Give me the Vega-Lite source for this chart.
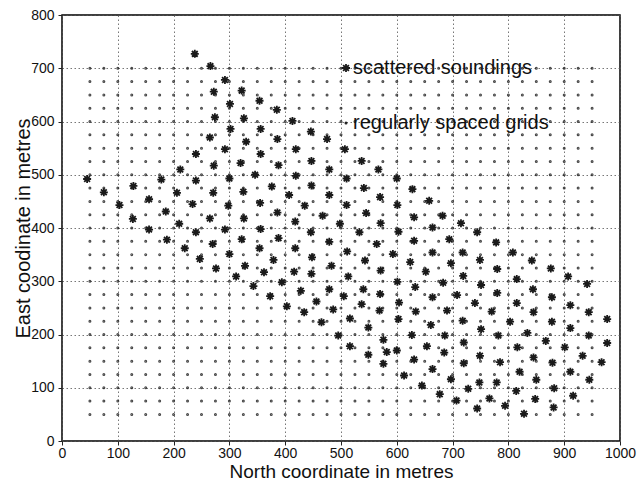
{
  "$schema": "https://vega.github.io/schema/vega-lite/v6.json",
  "width": 558,
  "height": 426,
  "autosize": {"type": "none"},
  "padding": {"left": 62, "top": 15, "right": 18, "bottom": 40},
  "background": "white",
  "config": {
    "font": "Liberation Sans",
    "view": {"stroke": "black", "strokeWidth": 1.5},
    "axis": {
      "domain": false,
      "labelFont": "Liberation Sans",
      "labelFontSize": 14,
      "labelColor": "#111",
      "titleFont": "Liberation Sans",
      "titleFontSize": 20,
      "titleFontWeight": "normal",
      "titleColor": "#111",
      "tickColor": "#222",
      "tickSize": 4,
      "tickWidth": 1,
      "grid": true,
      "gridColor": "#555",
      "gridDash": [1.5, 2.5],
      "gridWidth": 1,
      "gridOpacity": 0.8
    }
  },
  "datasets": {
    "grid": [
{"x":50,"y":50},{"x":50,"y":75},{"x":50,"y":100},{"x":50,"y":125},{"x":50,"y":150},{"x":50,"y":175},{"x":50,"y":200},{"x":50,"y":225},{"x":50,"y":250},{"x":50,"y":275},{"x":50,"y":300},{"x":50,"y":325},{"x":50,"y":350},{"x":50,"y":375},{"x":50,"y":400},{"x":50,"y":425},{"x":50,"y":450},{"x":50,"y":475},{"x":50,"y":500},{"x":50,"y":525},{"x":50,"y":550},{"x":50,"y":575},{"x":50,"y":600},{"x":50,"y":625},{"x":50,"y":650},{"x":50,"y":675},{"x":50,"y":700},
{"x":75,"y":50},{"x":75,"y":75},{"x":75,"y":100},{"x":75,"y":125},{"x":75,"y":150},{"x":75,"y":175},{"x":75,"y":200},{"x":75,"y":225},{"x":75,"y":250},{"x":75,"y":275},{"x":75,"y":300},{"x":75,"y":325},{"x":75,"y":350},{"x":75,"y":375},{"x":75,"y":400},{"x":75,"y":425},{"x":75,"y":450},{"x":75,"y":475},{"x":75,"y":500},{"x":75,"y":525},{"x":75,"y":550},{"x":75,"y":575},{"x":75,"y":600},{"x":75,"y":625},{"x":75,"y":650},{"x":75,"y":675},{"x":75,"y":700},
{"x":100,"y":50},{"x":100,"y":75},{"x":100,"y":100},{"x":100,"y":125},{"x":100,"y":150},{"x":100,"y":175},{"x":100,"y":200},{"x":100,"y":225},{"x":100,"y":250},{"x":100,"y":275},{"x":100,"y":300},{"x":100,"y":325},{"x":100,"y":350},{"x":100,"y":375},{"x":100,"y":400},{"x":100,"y":425},{"x":100,"y":450},{"x":100,"y":475},{"x":100,"y":500},{"x":100,"y":525},{"x":100,"y":550},{"x":100,"y":575},{"x":100,"y":600},{"x":100,"y":625},{"x":100,"y":650},{"x":100,"y":675},{"x":100,"y":700},
{"x":125,"y":50},{"x":125,"y":75},{"x":125,"y":100},{"x":125,"y":125},{"x":125,"y":150},{"x":125,"y":175},{"x":125,"y":200},{"x":125,"y":225},{"x":125,"y":250},{"x":125,"y":275},{"x":125,"y":300},{"x":125,"y":325},{"x":125,"y":350},{"x":125,"y":375},{"x":125,"y":400},{"x":125,"y":425},{"x":125,"y":450},{"x":125,"y":475},{"x":125,"y":500},{"x":125,"y":525},{"x":125,"y":550},{"x":125,"y":575},{"x":125,"y":600},{"x":125,"y":625},{"x":125,"y":650},{"x":125,"y":675},{"x":125,"y":700},
{"x":150,"y":50},{"x":150,"y":75},{"x":150,"y":100},{"x":150,"y":125},{"x":150,"y":150},{"x":150,"y":175},{"x":150,"y":200},{"x":150,"y":225},{"x":150,"y":250},{"x":150,"y":275},{"x":150,"y":300},{"x":150,"y":325},{"x":150,"y":350},{"x":150,"y":375},{"x":150,"y":400},{"x":150,"y":425},{"x":150,"y":450},{"x":150,"y":475},{"x":150,"y":500},{"x":150,"y":525},{"x":150,"y":550},{"x":150,"y":575},{"x":150,"y":600},{"x":150,"y":625},{"x":150,"y":650},{"x":150,"y":675},{"x":150,"y":700},
{"x":175,"y":50},{"x":175,"y":75},{"x":175,"y":100},{"x":175,"y":125},{"x":175,"y":150},{"x":175,"y":175},{"x":175,"y":200},{"x":175,"y":225},{"x":175,"y":250},{"x":175,"y":275},{"x":175,"y":300},{"x":175,"y":325},{"x":175,"y":350},{"x":175,"y":375},{"x":175,"y":400},{"x":175,"y":425},{"x":175,"y":450},{"x":175,"y":475},{"x":175,"y":500},{"x":175,"y":525},{"x":175,"y":550},{"x":175,"y":575},{"x":175,"y":600},{"x":175,"y":625},{"x":175,"y":650},{"x":175,"y":675},{"x":175,"y":700},
{"x":200,"y":50},{"x":200,"y":75},{"x":200,"y":100},{"x":200,"y":125},{"x":200,"y":150},{"x":200,"y":175},{"x":200,"y":200},{"x":200,"y":225},{"x":200,"y":250},{"x":200,"y":275},{"x":200,"y":300},{"x":200,"y":325},{"x":200,"y":350},{"x":200,"y":375},{"x":200,"y":400},{"x":200,"y":425},{"x":200,"y":450},{"x":200,"y":475},{"x":200,"y":500},{"x":200,"y":525},{"x":200,"y":550},{"x":200,"y":575},{"x":200,"y":600},{"x":200,"y":625},{"x":200,"y":650},{"x":200,"y":675},{"x":200,"y":700},
{"x":225,"y":50},{"x":225,"y":75},{"x":225,"y":100},{"x":225,"y":125},{"x":225,"y":150},{"x":225,"y":175},{"x":225,"y":200},{"x":225,"y":225},{"x":225,"y":250},{"x":225,"y":275},{"x":225,"y":300},{"x":225,"y":325},{"x":225,"y":350},{"x":225,"y":375},{"x":225,"y":400},{"x":225,"y":425},{"x":225,"y":450},{"x":225,"y":475},{"x":225,"y":500},{"x":225,"y":525},{"x":225,"y":550},{"x":225,"y":575},{"x":225,"y":600},{"x":225,"y":625},{"x":225,"y":650},{"x":225,"y":675},{"x":225,"y":700},
{"x":250,"y":50},{"x":250,"y":75},{"x":250,"y":100},{"x":250,"y":125},{"x":250,"y":150},{"x":250,"y":175},{"x":250,"y":200},{"x":250,"y":225},{"x":250,"y":250},{"x":250,"y":275},{"x":250,"y":300},{"x":250,"y":325},{"x":250,"y":350},{"x":250,"y":375},{"x":250,"y":400},{"x":250,"y":425},{"x":250,"y":450},{"x":250,"y":475},{"x":250,"y":500},{"x":250,"y":525},{"x":250,"y":550},{"x":250,"y":575},{"x":250,"y":600},{"x":250,"y":625},{"x":250,"y":650},{"x":250,"y":675},{"x":250,"y":700},
{"x":275,"y":50},{"x":275,"y":75},{"x":275,"y":100},{"x":275,"y":125},{"x":275,"y":150},{"x":275,"y":175},{"x":275,"y":200},{"x":275,"y":225},{"x":275,"y":250},{"x":275,"y":275},{"x":275,"y":300},{"x":275,"y":325},{"x":275,"y":350},{"x":275,"y":375},{"x":275,"y":400},{"x":275,"y":425},{"x":275,"y":450},{"x":275,"y":475},{"x":275,"y":500},{"x":275,"y":525},{"x":275,"y":550},{"x":275,"y":575},{"x":275,"y":600},{"x":275,"y":625},{"x":275,"y":650},{"x":275,"y":675},{"x":275,"y":700},
{"x":300,"y":50},{"x":300,"y":75},{"x":300,"y":100},{"x":300,"y":125},{"x":300,"y":150},{"x":300,"y":175},{"x":300,"y":200},{"x":300,"y":225},{"x":300,"y":250},{"x":300,"y":275},{"x":300,"y":300},{"x":300,"y":325},{"x":300,"y":350},{"x":300,"y":375},{"x":300,"y":400},{"x":300,"y":425},{"x":300,"y":450},{"x":300,"y":475},{"x":300,"y":500},{"x":300,"y":525},{"x":300,"y":550},{"x":300,"y":575},{"x":300,"y":600},{"x":300,"y":625},{"x":300,"y":650},{"x":300,"y":675},{"x":300,"y":700},
{"x":325,"y":50},{"x":325,"y":75},{"x":325,"y":100},{"x":325,"y":125},{"x":325,"y":150},{"x":325,"y":175},{"x":325,"y":200},{"x":325,"y":225},{"x":325,"y":250},{"x":325,"y":275},{"x":325,"y":300},{"x":325,"y":325},{"x":325,"y":350},{"x":325,"y":375},{"x":325,"y":400},{"x":325,"y":425},{"x":325,"y":450},{"x":325,"y":475},{"x":325,"y":500},{"x":325,"y":525},{"x":325,"y":550},{"x":325,"y":575},{"x":325,"y":600},{"x":325,"y":625},{"x":325,"y":650},{"x":325,"y":675},{"x":325,"y":700},
{"x":350,"y":50},{"x":350,"y":75},{"x":350,"y":100},{"x":350,"y":125},{"x":350,"y":150},{"x":350,"y":175},{"x":350,"y":200},{"x":350,"y":225},{"x":350,"y":250},{"x":350,"y":275},{"x":350,"y":300},{"x":350,"y":325},{"x":350,"y":350},{"x":350,"y":375},{"x":350,"y":400},{"x":350,"y":425},{"x":350,"y":450},{"x":350,"y":475},{"x":350,"y":500},{"x":350,"y":525},{"x":350,"y":550},{"x":350,"y":575},{"x":350,"y":600},{"x":350,"y":625},{"x":350,"y":650},{"x":350,"y":675},{"x":350,"y":700},
{"x":375,"y":50},{"x":375,"y":75},{"x":375,"y":100},{"x":375,"y":125},{"x":375,"y":150},{"x":375,"y":175},{"x":375,"y":200},{"x":375,"y":225},{"x":375,"y":250},{"x":375,"y":275},{"x":375,"y":300},{"x":375,"y":325},{"x":375,"y":350},{"x":375,"y":375},{"x":375,"y":400},{"x":375,"y":425},{"x":375,"y":450},{"x":375,"y":475},{"x":375,"y":500},{"x":375,"y":525},{"x":375,"y":550},{"x":375,"y":575},{"x":375,"y":600},{"x":375,"y":625},{"x":375,"y":650},{"x":375,"y":675},{"x":375,"y":700},
{"x":400,"y":50},{"x":400,"y":75},{"x":400,"y":100},{"x":400,"y":125},{"x":400,"y":150},{"x":400,"y":175},{"x":400,"y":200},{"x":400,"y":225},{"x":400,"y":250},{"x":400,"y":275},{"x":400,"y":300},{"x":400,"y":325},{"x":400,"y":350},{"x":400,"y":375},{"x":400,"y":400},{"x":400,"y":425},{"x":400,"y":450},{"x":400,"y":475},{"x":400,"y":500},{"x":400,"y":525},{"x":400,"y":550},{"x":400,"y":575},{"x":400,"y":600},{"x":400,"y":625},{"x":400,"y":650},{"x":400,"y":675},{"x":400,"y":700},
{"x":425,"y":50},{"x":425,"y":75},{"x":425,"y":100},{"x":425,"y":125},{"x":425,"y":150},{"x":425,"y":175},{"x":425,"y":200},{"x":425,"y":225},{"x":425,"y":250},{"x":425,"y":275},{"x":425,"y":300},{"x":425,"y":325},{"x":425,"y":350},{"x":425,"y":375},{"x":425,"y":400},{"x":425,"y":425},{"x":425,"y":450},{"x":425,"y":475},{"x":425,"y":500},{"x":425,"y":525},{"x":425,"y":550},{"x":425,"y":575},{"x":425,"y":600},{"x":425,"y":625},{"x":425,"y":650},{"x":425,"y":675},{"x":425,"y":700},
{"x":450,"y":50},{"x":450,"y":75},{"x":450,"y":100},{"x":450,"y":125},{"x":450,"y":150},{"x":450,"y":175},{"x":450,"y":200},{"x":450,"y":225},{"x":450,"y":250},{"x":450,"y":275},{"x":450,"y":300},{"x":450,"y":325},{"x":450,"y":350},{"x":450,"y":375},{"x":450,"y":400},{"x":450,"y":425},{"x":450,"y":450},{"x":450,"y":475},{"x":450,"y":500},{"x":450,"y":525},{"x":450,"y":550},{"x":450,"y":575},{"x":450,"y":600},{"x":450,"y":625},{"x":450,"y":650},{"x":450,"y":675},{"x":450,"y":700},
{"x":475,"y":50},{"x":475,"y":75},{"x":475,"y":100},{"x":475,"y":125},{"x":475,"y":150},{"x":475,"y":175},{"x":475,"y":200},{"x":475,"y":225},{"x":475,"y":250},{"x":475,"y":275},{"x":475,"y":300},{"x":475,"y":325},{"x":475,"y":350},{"x":475,"y":375},{"x":475,"y":400},{"x":475,"y":425},{"x":475,"y":450},{"x":475,"y":475},{"x":475,"y":500},{"x":475,"y":525},{"x":475,"y":550},{"x":475,"y":575},{"x":475,"y":600},{"x":475,"y":625},{"x":475,"y":650},{"x":475,"y":675},{"x":475,"y":700},
{"x":500,"y":50},{"x":500,"y":75},{"x":500,"y":100},{"x":500,"y":125},{"x":500,"y":150},{"x":500,"y":175},{"x":500,"y":200},{"x":500,"y":225},{"x":500,"y":250},{"x":500,"y":275},{"x":500,"y":300},{"x":500,"y":325},{"x":500,"y":350},{"x":500,"y":375},{"x":500,"y":400},{"x":500,"y":425},{"x":500,"y":450},{"x":500,"y":475},{"x":500,"y":500},{"x":500,"y":525},{"x":500,"y":550},{"x":500,"y":575},{"x":500,"y":600},{"x":500,"y":625},{"x":500,"y":650},{"x":500,"y":675},{"x":500,"y":700},
{"x":525,"y":50},{"x":525,"y":75},{"x":525,"y":100},{"x":525,"y":125},{"x":525,"y":150},{"x":525,"y":175},{"x":525,"y":200},{"x":525,"y":225},{"x":525,"y":250},{"x":525,"y":275},{"x":525,"y":300},{"x":525,"y":325},{"x":525,"y":350},{"x":525,"y":375},{"x":525,"y":400},{"x":525,"y":425},{"x":525,"y":450},{"x":525,"y":475},{"x":525,"y":500},{"x":525,"y":525},{"x":525,"y":550},{"x":525,"y":575},{"x":525,"y":600},{"x":525,"y":625},{"x":525,"y":650},{"x":525,"y":675},{"x":525,"y":700},
{"x":550,"y":50},{"x":550,"y":75},{"x":550,"y":100},{"x":550,"y":125},{"x":550,"y":150},{"x":550,"y":175},{"x":550,"y":200},{"x":550,"y":225},{"x":550,"y":250},{"x":550,"y":275},{"x":550,"y":300},{"x":550,"y":325},{"x":550,"y":350},{"x":550,"y":375},{"x":550,"y":400},{"x":550,"y":425},{"x":550,"y":450},{"x":550,"y":475},{"x":550,"y":500},{"x":550,"y":525},{"x":550,"y":550},{"x":550,"y":575},{"x":550,"y":600},{"x":550,"y":625},{"x":550,"y":650},{"x":550,"y":675},{"x":550,"y":700},
{"x":575,"y":50},{"x":575,"y":75},{"x":575,"y":100},{"x":575,"y":125},{"x":575,"y":150},{"x":575,"y":175},{"x":575,"y":200},{"x":575,"y":225},{"x":575,"y":250},{"x":575,"y":275},{"x":575,"y":300},{"x":575,"y":325},{"x":575,"y":350},{"x":575,"y":375},{"x":575,"y":400},{"x":575,"y":425},{"x":575,"y":450},{"x":575,"y":475},{"x":575,"y":500},{"x":575,"y":525},{"x":575,"y":550},{"x":575,"y":575},{"x":575,"y":600},{"x":575,"y":625},{"x":575,"y":650},{"x":575,"y":675},{"x":575,"y":700},
{"x":600,"y":50},{"x":600,"y":75},{"x":600,"y":100},{"x":600,"y":125},{"x":600,"y":150},{"x":600,"y":175},{"x":600,"y":200},{"x":600,"y":225},{"x":600,"y":250},{"x":600,"y":275},{"x":600,"y":300},{"x":600,"y":325},{"x":600,"y":350},{"x":600,"y":375},{"x":600,"y":400},{"x":600,"y":425},{"x":600,"y":450},{"x":600,"y":475},{"x":600,"y":500},{"x":600,"y":525},{"x":600,"y":550},{"x":600,"y":575},{"x":600,"y":600},{"x":600,"y":625},{"x":600,"y":650},{"x":600,"y":675},{"x":600,"y":700},
{"x":625,"y":50},{"x":625,"y":75},{"x":625,"y":100},{"x":625,"y":125},{"x":625,"y":150},{"x":625,"y":175},{"x":625,"y":200},{"x":625,"y":225},{"x":625,"y":250},{"x":625,"y":275},{"x":625,"y":300},{"x":625,"y":325},{"x":625,"y":350},{"x":625,"y":375},{"x":625,"y":400},{"x":625,"y":425},{"x":625,"y":450},{"x":625,"y":475},{"x":625,"y":500},{"x":625,"y":525},{"x":625,"y":550},{"x":625,"y":575},{"x":625,"y":600},{"x":625,"y":625},{"x":625,"y":650},{"x":625,"y":675},{"x":625,"y":700},
{"x":650,"y":50},{"x":650,"y":75},{"x":650,"y":100},{"x":650,"y":125},{"x":650,"y":150},{"x":650,"y":175},{"x":650,"y":200},{"x":650,"y":225},{"x":650,"y":250},{"x":650,"y":275},{"x":650,"y":300},{"x":650,"y":325},{"x":650,"y":350},{"x":650,"y":375},{"x":650,"y":400},{"x":650,"y":425},{"x":650,"y":450},{"x":650,"y":475},{"x":650,"y":500},{"x":650,"y":525},{"x":650,"y":550},{"x":650,"y":575},{"x":650,"y":600},{"x":650,"y":625},{"x":650,"y":650},{"x":650,"y":675},{"x":650,"y":700},
{"x":675,"y":50},{"x":675,"y":75},{"x":675,"y":100},{"x":675,"y":125},{"x":675,"y":150},{"x":675,"y":175},{"x":675,"y":200},{"x":675,"y":225},{"x":675,"y":250},{"x":675,"y":275},{"x":675,"y":300},{"x":675,"y":325},{"x":675,"y":350},{"x":675,"y":375},{"x":675,"y":400},{"x":675,"y":425},{"x":675,"y":450},{"x":675,"y":475},{"x":675,"y":500},{"x":675,"y":525},{"x":675,"y":550},{"x":675,"y":575},{"x":675,"y":600},{"x":675,"y":625},{"x":675,"y":650},{"x":675,"y":675},{"x":675,"y":700},
{"x":700,"y":50},{"x":700,"y":75},{"x":700,"y":100},{"x":700,"y":125},{"x":700,"y":150},{"x":700,"y":175},{"x":700,"y":200},{"x":700,"y":225},{"x":700,"y":250},{"x":700,"y":275},{"x":700,"y":300},{"x":700,"y":325},{"x":700,"y":350},{"x":700,"y":375},{"x":700,"y":400},{"x":700,"y":425},{"x":700,"y":450},{"x":700,"y":475},{"x":700,"y":500},{"x":700,"y":525},{"x":700,"y":550},{"x":700,"y":575},{"x":700,"y":600},{"x":700,"y":625},{"x":700,"y":650},{"x":700,"y":675},{"x":700,"y":700},
{"x":725,"y":50},{"x":725,"y":75},{"x":725,"y":100},{"x":725,"y":125},{"x":725,"y":150},{"x":725,"y":175},{"x":725,"y":200},{"x":725,"y":225},{"x":725,"y":250},{"x":725,"y":275},{"x":725,"y":300},{"x":725,"y":325},{"x":725,"y":350},{"x":725,"y":375},{"x":725,"y":400},{"x":725,"y":425},{"x":725,"y":450},{"x":725,"y":475},{"x":725,"y":500},{"x":725,"y":525},{"x":725,"y":550},{"x":725,"y":575},{"x":725,"y":600},{"x":725,"y":625},{"x":725,"y":650},{"x":725,"y":675},{"x":725,"y":700},
{"x":750,"y":50},{"x":750,"y":75},{"x":750,"y":100},{"x":750,"y":125},{"x":750,"y":150},{"x":750,"y":175},{"x":750,"y":200},{"x":750,"y":225},{"x":750,"y":250},{"x":750,"y":275},{"x":750,"y":300},{"x":750,"y":325},{"x":750,"y":350},{"x":750,"y":375},{"x":750,"y":400},{"x":750,"y":425},{"x":750,"y":450},{"x":750,"y":475},{"x":750,"y":500},{"x":750,"y":525},{"x":750,"y":550},{"x":750,"y":575},{"x":750,"y":600},{"x":750,"y":625},{"x":750,"y":650},{"x":750,"y":675},{"x":750,"y":700},
{"x":775,"y":50},{"x":775,"y":75},{"x":775,"y":100},{"x":775,"y":125},{"x":775,"y":150},{"x":775,"y":175},{"x":775,"y":200},{"x":775,"y":225},{"x":775,"y":250},{"x":775,"y":275},{"x":775,"y":300},{"x":775,"y":325},{"x":775,"y":350},{"x":775,"y":375},{"x":775,"y":400},{"x":775,"y":425},{"x":775,"y":450},{"x":775,"y":475},{"x":775,"y":500},{"x":775,"y":525},{"x":775,"y":550},{"x":775,"y":575},{"x":775,"y":600},{"x":775,"y":625},{"x":775,"y":650},{"x":775,"y":675},{"x":775,"y":700},
{"x":800,"y":50},{"x":800,"y":75},{"x":800,"y":100},{"x":800,"y":125},{"x":800,"y":150},{"x":800,"y":175},{"x":800,"y":200},{"x":800,"y":225},{"x":800,"y":250},{"x":800,"y":275},{"x":800,"y":300},{"x":800,"y":325},{"x":800,"y":350},{"x":800,"y":375},{"x":800,"y":400},{"x":800,"y":425},{"x":800,"y":450},{"x":800,"y":475},{"x":800,"y":500},{"x":800,"y":525},{"x":800,"y":550},{"x":800,"y":575},{"x":800,"y":600},{"x":800,"y":625},{"x":800,"y":650},{"x":800,"y":675},{"x":800,"y":700},
{"x":825,"y":50},{"x":825,"y":75},{"x":825,"y":100},{"x":825,"y":125},{"x":825,"y":150},{"x":825,"y":175},{"x":825,"y":200},{"x":825,"y":225},{"x":825,"y":250},{"x":825,"y":275},{"x":825,"y":300},{"x":825,"y":325},{"x":825,"y":350},{"x":825,"y":375},{"x":825,"y":400},{"x":825,"y":425},{"x":825,"y":450},{"x":825,"y":475},{"x":825,"y":500},{"x":825,"y":525},{"x":825,"y":550},{"x":825,"y":575},{"x":825,"y":600},{"x":825,"y":625},{"x":825,"y":650},{"x":825,"y":675},{"x":825,"y":700},
{"x":850,"y":50},{"x":850,"y":75},{"x":850,"y":100},{"x":850,"y":125},{"x":850,"y":150},{"x":850,"y":175},{"x":850,"y":200},{"x":850,"y":225},{"x":850,"y":250},{"x":850,"y":275},{"x":850,"y":300},{"x":850,"y":325},{"x":850,"y":350},{"x":850,"y":375},{"x":850,"y":400},{"x":850,"y":425},{"x":850,"y":450},{"x":850,"y":475},{"x":850,"y":500},{"x":850,"y":525},{"x":850,"y":550},{"x":850,"y":575},{"x":850,"y":600},{"x":850,"y":625},{"x":850,"y":650},{"x":850,"y":675},{"x":850,"y":700},
{"x":875,"y":50},{"x":875,"y":75},{"x":875,"y":100},{"x":875,"y":125},{"x":875,"y":150},{"x":875,"y":175},{"x":875,"y":200},{"x":875,"y":225},{"x":875,"y":250},{"x":875,"y":275},{"x":875,"y":300},{"x":875,"y":325},{"x":875,"y":350},{"x":875,"y":375},{"x":875,"y":400},{"x":875,"y":425},{"x":875,"y":450},{"x":875,"y":475},{"x":875,"y":500},{"x":875,"y":525},{"x":875,"y":550},{"x":875,"y":575},{"x":875,"y":600},{"x":875,"y":625},{"x":875,"y":650},{"x":875,"y":675},{"x":875,"y":700},
{"x":900,"y":50},{"x":900,"y":75},{"x":900,"y":100},{"x":900,"y":125},{"x":900,"y":150},{"x":900,"y":175},{"x":900,"y":200},{"x":900,"y":225},{"x":900,"y":250},{"x":900,"y":275},{"x":900,"y":300},{"x":900,"y":325},{"x":900,"y":350},{"x":900,"y":375},{"x":900,"y":400},{"x":900,"y":425},{"x":900,"y":450},{"x":900,"y":475},{"x":900,"y":500},{"x":900,"y":525},{"x":900,"y":550},{"x":900,"y":575},{"x":900,"y":600},{"x":900,"y":625},{"x":900,"y":650},{"x":900,"y":675},{"x":900,"y":700},
{"x":925,"y":50},{"x":925,"y":75},{"x":925,"y":100},{"x":925,"y":125},{"x":925,"y":150},{"x":925,"y":175},{"x":925,"y":200},{"x":925,"y":225},{"x":925,"y":250},{"x":925,"y":275},{"x":925,"y":300},{"x":925,"y":325},{"x":925,"y":350},{"x":925,"y":375},{"x":925,"y":400},{"x":925,"y":425},{"x":925,"y":450},{"x":925,"y":475},{"x":925,"y":500},{"x":925,"y":525},{"x":925,"y":550},{"x":925,"y":575},{"x":925,"y":600},{"x":925,"y":625},{"x":925,"y":650},{"x":925,"y":675},{"x":925,"y":700},
{"x":950,"y":50},{"x":950,"y":75},{"x":950,"y":100},{"x":950,"y":125},{"x":950,"y":150},{"x":950,"y":175},{"x":950,"y":200},{"x":950,"y":225},{"x":950,"y":250},{"x":950,"y":275},{"x":950,"y":300},{"x":950,"y":325},{"x":950,"y":350},{"x":950,"y":375},{"x":950,"y":400},{"x":950,"y":425},{"x":950,"y":450},{"x":950,"y":475},{"x":950,"y":500},{"x":950,"y":525},{"x":950,"y":550},{"x":950,"y":575},{"x":950,"y":600},{"x":950,"y":625},{"x":950,"y":650},{"x":950,"y":675},{"x":950,"y":700}
    ],
    "soundings": [
{"x":238,"y":727},{"x":212,"y":510},{"x":45,"y":492},{"x":75,"y":467},{"x":128,"y":479},{"x":178,"y":491},{"x":206,"y":466},{"x":103,"y":443},{"x":156,"y":454},{"x":186,"y":431},{"x":127,"y":417},{"x":210,"y":408},{"x":156,"y":397},{"x":188,"y":378},{"x":220,"y":362},
{"x":266,"y":704},{"x":292,"y":678},{"x":272,"y":656},{"x":322,"y":658},{"x":301,"y":633},{"x":354,"y":639},{"x":385,"y":622},{"x":274,"y":608},{"x":326,"y":606},{"x":413,"y":601},{"x":302,"y":586},{"x":356,"y":586},{"x":265,"y":570},{"x":330,"y":562},{"x":386,"y":567},{"x":292,"y":548},{"x":419,"y":548},{"x":240,"y":539},{"x":356,"y":539},{"x":272,"y":517},{"x":320,"y":522},{"x":388,"y":518},{"x":346,"y":500},{"x":240,"y":489},{"x":300,"y":493},{"x":419,"y":498},{"x":376,"y":478},{"x":271,"y":466},{"x":325,"y":468},{"x":407,"y":462},{"x":234,"y":445},{"x":355,"y":447},{"x":298,"y":442},{"x":386,"y":429},{"x":265,"y":418},{"x":326,"y":418},{"x":418,"y":412},{"x":240,"y":392},{"x":292,"y":397},{"x":356,"y":398},{"x":388,"y":381},{"x":270,"y":370},{"x":322,"y":379},{"x":354,"y":362},{"x":300,"y":351},{"x":247,"y":342},{"x":276,"y":324},{"x":328,"y":329},{"x":379,"y":340},{"x":312,"y":309},{"x":362,"y":317},{"x":343,"y":291},{"x":394,"y":298},{"x":373,"y":272},
{"x":446,"y":581},{"x":475,"y":567},{"x":507,"y":548},{"x":447,"y":526},{"x":537,"y":526},{"x":479,"y":510},{"x":567,"y":510},{"x":510,"y":493},{"x":600,"y":493},{"x":447,"y":480},{"x":541,"y":475},{"x":479,"y":462},{"x":570,"y":458},{"x":435,"y":442},{"x":510,"y":443},{"x":601,"y":443},{"x":467,"y":423},{"x":545,"y":428},{"x":498,"y":408},{"x":571,"y":409},{"x":446,"y":392},{"x":533,"y":392},{"x":603,"y":393},{"x":479,"y":374},{"x":564,"y":370},{"x":418,"y":362},{"x":511,"y":356},{"x":448,"y":345},{"x":543,"y":339},{"x":483,"y":329},{"x":571,"y":320},{"x":416,"y":318},{"x":447,"y":314},{"x":513,"y":309},{"x":601,"y":299},{"x":428,"y":282},{"x":540,"y":285},{"x":479,"y":285},{"x":456,"y":262},{"x":505,"y":272},{"x":570,"y":276},{"x":537,"y":257},{"x":486,"y":247},{"x":434,"y":242},{"x":516,"y":230},{"x":569,"y":245},{"x":465,"y":223},{"x":549,"y":213},{"x":603,"y":229},{"x":495,"y":198},{"x":576,"y":190},{"x":516,"y":178},{"x":549,"y":162},{"x":582,"y":167},{"x":403,"y":253},{"x":576,"y":145},
{"x":628,"y":473},{"x":658,"y":451},{"x":631,"y":420},{"x":682,"y":423},{"x":715,"y":409},{"x":664,"y":401},{"x":744,"y":392},{"x":631,"y":376},{"x":694,"y":379},{"x":778,"y":373},{"x":664,"y":354},{"x":718,"y":354},{"x":593,"y":351},{"x":624,"y":336},{"x":697,"y":334},{"x":749,"y":340},{"x":652,"y":318},{"x":719,"y":310},{"x":780,"y":323},{"x":683,"y":297},{"x":633,"y":289},{"x":751,"y":293},{"x":664,"y":270},{"x":708,"y":274},{"x":780,"y":278},{"x":604,"y":260},{"x":740,"y":259},{"x":634,"y":243},{"x":690,"y":245},{"x":770,"y":243},{"x":661,"y":218},{"x":718,"y":226},{"x":751,"y":210},{"x":627,"y":199},{"x":782,"y":198},{"x":686,"y":198},{"x":654,"y":178},{"x":720,"y":185},{"x":600,"y":170},{"x":685,"y":166},{"x":749,"y":160},{"x":631,"y":153},{"x":720,"y":146},{"x":664,"y":135},{"x":613,"y":123},{"x":697,"y":116},{"x":645,"y":104},{"x":748,"y":110},{"x":728,"y":98},{"x":677,"y":88},{"x":766,"y":80},{"x":707,"y":76},{"x":744,"y":61},
{"x":808,"y":354},{"x":842,"y":339},{"x":876,"y":324},{"x":907,"y":309},{"x":815,"y":304},{"x":941,"y":295},{"x":844,"y":285},{"x":878,"y":270},{"x":815,"y":259},{"x":911,"y":255},{"x":845,"y":242},{"x":944,"y":242},{"x":977,"y":229},{"x":803,"y":224},{"x":878,"y":224},{"x":911,"y":212},{"x":834,"y":203},{"x":944,"y":198},{"x":867,"y":188},{"x":816,"y":176},{"x":901,"y":176},{"x":977,"y":184},{"x":845,"y":157},{"x":933,"y":160},{"x":785,"y":148},{"x":879,"y":147},{"x":967,"y":148},{"x":820,"y":130},{"x":911,"y":130},{"x":850,"y":115},{"x":945,"y":115},{"x":779,"y":110},{"x":814,"y":94},{"x":882,"y":99},{"x":916,"y":85},{"x":848,"y":79},{"x":794,"y":66},{"x":881,"y":63},{"x":828,"y":51}
    ]
  },
  "layer": [
    {
      "data": {"name": "grid"},
      "mark": {"type": "point", "filled": false, "color": "#2a2a2a", "size": 64, "strokeWidth": 1.8, "opacity": 0.85},
      "encoding": {
        "x": {"field": "x", "type": "quantitative", "scale": {"domain": [0, 1000], "nice": false},
              "axis": {"values": [0,100,200,300,400,500,600,700,800,900,1000], "format": "d", "title": "North coordinate in metres", "titleFontSize": 19, "labelPadding": 1, "titlePadding": 2, "labelFlush": false}},
        "y": {"field": "y", "type": "quantitative", "scale": {"domain": [0, 800], "nice": false},
              "axis": {"values": [0,100,200,300,400,500,600,700,800], "format": "d", "title": "East coodinate in metres", "labelPadding": 4, "titlePadding": -3, "labelFlush": false}},
        "shape": {
          "datum": "regularly spaced grids",
          "type": "nominal",
          "scale": {"domain": ["scattered soundings", "regularly spaced grids"], "range": ["M-1,0H1M0,-1V1M-0.72,-0.72L0.72,0.72M-0.72,0.72L0.72,-0.72", "M-0.15,0A0.15,0.15 0 1,0 0.15,0A0.15,0.15 0 1,0 -0.15,0Z"]},
          "legend": {
            "title": null,
            "orient": "none",
            "legendX": 274,
            "legendY": 43,
            "padding": 0,
            "rowPadding": 35,
            "labelFont": "Liberation Sans",
            "labelFontSize": 20,
            "labelColor": "#111",
            "labelOffset": -3,
            "labelLimit": 400,
            "symbolStrokeColor": "#1a1a1a",
            "symbolStrokeWidth": 1.8,
            "symbolSize": 64,
            "symbolOpacity": 1
          }
        }
      }
    },
    {
      "data": {"name": "soundings"},
      "mark": {"type": "point", "filled": false, "color": "#1a1a1a", "size": 64, "strokeWidth": 1.8, "opacity": 1},
      "encoding": {
        "x": {"field": "x", "type": "quantitative"},
        "y": {"field": "y", "type": "quantitative"},
        "shape": {"datum": "scattered soundings", "type": "nominal"}
      }
    }
  ]
}
